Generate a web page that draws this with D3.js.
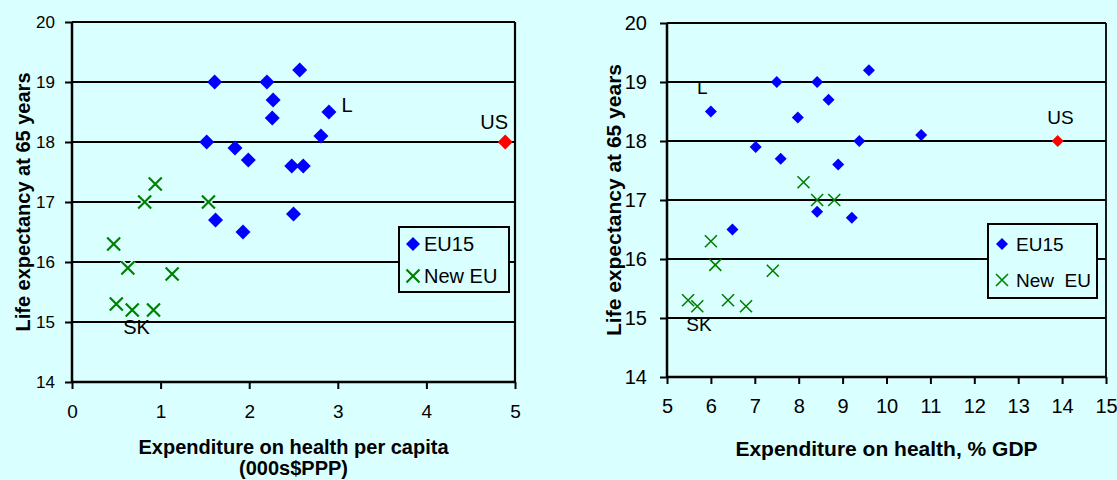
<!DOCTYPE html>
<html>
<head>
<meta charset="utf-8">
<script src="https://cdn.jsdelivr.net/npm/d3@7/dist/d3.min.js"></script>
<style>
  html, body { margin: 0; padding: 0; background: #d9ffff; }
  svg { display: block; font-family: Arial, "Liberation Sans", sans-serif; }
</style>
</head>
<body>
<svg id="chart" width="1117" height="480"></svg>
<script>
// ---- Data ----
const yTicks = [14, 15, 16, 17, 18, 19, 20];
const leftXTicks = [0, 1, 2, 3, 4, 5];
const rightXTicks = [5, 6, 7, 8, 9, 10, 11, 12, 13, 14, 15];

// Left: expenditure per capita (000s $PPP)
const leftEU15X = [1.61, 2.20, 2.27, 2.26, 1.52, 1.84, 1.99, 2.48, 2.57, 2.90, 2.81, 2.61, 1.62, 1.93, 2.50];
const leftEU15Y = [19.0, 19.0, 18.7, 18.4, 18.0, 17.9, 17.7, 17.6, 19.2, 18.5, 18.1, 17.6, 16.7, 16.5, 16.8];
const leftNewX = [0.94, 0.82, 1.54, 0.47, 0.63, 1.13, 0.50, 0.68, 0.92];
const leftNewY = [17.3, 17.0, 17.0, 16.3, 15.9, 15.8, 15.3, 15.2, 15.2];
const leftUS = [4.89, 18.0];

// Right: expenditure % GDP
const rightEU15X = [7.50, 8.42, 9.60, 8.68, 6.00, 7.98, 9.38, 7.02, 7.59, 8.90, 10.79, 8.42, 9.21, 6.49];
const rightEU15Y = [19.0, 19.0, 19.2, 18.7, 18.5, 18.4, 18.0, 17.9, 17.7, 17.6, 18.1, 16.8, 16.7, 16.5];
const rightNewX = [8.11, 8.42, 8.81, 6.00, 6.10, 7.41, 5.48, 5.69, 6.39, 6.80];
const rightNewY = [17.3, 17.0, 17.0, 16.3, 15.9, 15.8, 15.3, 15.2, 15.3, 15.2];
const rightUS = [13.9, 18.0];

const seriesNames = ["EU15", "New EU"];
const yTitle = "Life expectancy at 65 years";

const BG = "#d9ffff";
const svg = d3.select("#chart");
svg.append("rect").attr("width", 1117).attr("height", 480).attr("fill", BG);

function diamond(g, cx, cy, r, fill) {
  g.append("path")
    .attr("d", `M${cx},${cy - r}L${cx + r},${cy}L${cx},${cy + r}L${cx - r},${cy}Z`)
    .attr("fill", fill);
}
function cross(g, cx, cy, r, sw, halo) {
  const d = `M${cx - r},${cy - r}L${cx + r},${cy + r}M${cx - r},${cy + r}L${cx + r},${cy - r}`;
  if (halo) g.append("path").attr("d", d).attr("stroke", BG).attr("stroke-width", sw + 3).attr("fill", "none");
  g.append("path").attr("d", d).attr("stroke", "#008000").attr("stroke-width", sw).attr("fill", "none");
}

function drawChart(cfg) {
  const x = d3.scaleLinear().domain(cfg.xDomain).range(cfg.xRange);
  const y = d3.scaleLinear().domain([14, 20]).range(cfg.yRange);
  const g = svg.append("g");
  const [x0, x1] = cfg.xRange;
  const [yb, yt] = cfg.yRange;

  // gridlines
  g.selectAll(".grid").data(yTicks.filter(v => v > 14)).join("line")
    .attr("x1", x0).attr("x2", x1)
    .attr("y1", d => y(d)).attr("y2", d => y(d))
    .attr("stroke", "#000").attr("stroke-width", cfg.gridW);
  // right border
  g.append("line").attr("x1", x1).attr("x2", x1).attr("y1", yt).attr("y2", yb)
    .attr("stroke", "#000").attr("stroke-width", cfg.gridW);

  // y axis
  const ya = g.append("g").attr("transform", `translate(${x0},0)`)
    .call(d3.axisLeft(y).tickValues(yTicks).tickSize(7).tickPadding(cfg.yPad).tickFormat(d3.format("d")));
  ya.select(".domain").attr("stroke", "#000").attr("stroke-width", 2.5).attr("d", `M0,${yb}V${yt}`);
  ya.selectAll(".tick line").attr("stroke", "#000").attr("stroke-width", 2);
  ya.selectAll(".tick text").attr("font-size", cfg.yTickFs).attr("fill", "#000")
    .attr("font-family", "Arial, 'Liberation Sans', sans-serif");

  // x axis
  const xa = g.append("g").attr("transform", `translate(0,${yb})`)
    .call(d3.axisBottom(x).tickValues(cfg.xTicks).tickSize(7).tickPadding(cfg.xPad).tickFormat(d3.format("d")));
  xa.select(".domain").attr("stroke", "#000").attr("stroke-width", 2.5).attr("d", `M${x0},0H${x1}`);
  xa.selectAll(".tick line").attr("stroke", "#000").attr("stroke-width", 2);
  xa.selectAll(".tick text").attr("font-size", cfg.xTickFs).attr("fill", "#000")
    .attr("font-family", "Arial, 'Liberation Sans', sans-serif");

  // points
  const pts = g.append("g");
  cfg.newX.forEach((v, i) => cross(pts, x(v), y(cfg.newY[i]), cfg.xr, cfg.xsw, cfg.halo));
  cfg.euX.forEach((v, i) => diamond(pts, x(v), y(cfg.euY[i]), cfg.dr, "#0000ff"));
  diamond(pts, x(cfg.us[0]), y(cfg.us[1]), cfg.dr, "#ff0000");

  // point labels
  cfg.labels.forEach(l => {
    g.append("text").attr("x", x(l.px) + l.dx).attr("y", y(l.py) + l.dy)
      .attr("font-size", cfg.labFs).attr("fill", "#000").text(l.t);
  });

  // legend
  const L = cfg.legend;
  const lg = g.append("g");
  lg.append("rect").attr("x", L.x).attr("y", L.y).attr("width", L.w).attr("height", L.h)
    .attr("fill", BG).attr("stroke", "#000").attr("stroke-width", 2);
  diamond(lg, L.x + L.mx, L.y + L.r1, cfg.ldr, "#0000ff");
  lg.append("text").attr("x", L.x + L.tx).attr("y", L.y + L.r1).attr("dy", "0.35em")
    .attr("font-size", L.fs).text(seriesNames[0]);
  cross(lg, L.x + L.mx, L.y + L.r2, cfg.lxr, cfg.xsw, false);
  lg.append("text").attr("x", L.x + L.tx).attr("y", L.y + L.r2).attr("dy", "0.35em")
    .attr("font-size", L.fs).attr("xml:space", "preserve").style("white-space", "pre").text(L.name2);

  // axis titles
  g.append("text").attr("transform", `translate(${cfg.yTitleX},${(yb + yt) / 2}) rotate(-90)`)
    .attr("text-anchor", "middle").attr("font-weight", "bold").attr("font-size", cfg.titleFs).text(yTitle);
  cfg.xTitle.forEach((t, i) => {
    g.append("text").attr("x", (x0 + x1) / 2).attr("y", cfg.xTitleY + i * cfg.xTitleLH)
      .attr("text-anchor", "middle").attr("font-weight", "bold").attr("font-size", cfg.titleFs).text(t);
  });
}

drawChart({
  xDomain: [0, 5], xRange: [72, 515], yRange: [382, 22], xTicks: leftXTicks,
  gridW: 2.2, yPad: 10, xPad: 16, yTickFs: 17, xTickFs: 19,
  euX: leftEU15X, euY: leftEU15Y, newX: leftNewX, newY: leftNewY, us: leftUS,
  dr: 7.5, xr: 6.5, xsw: 2.2, halo: true, ldr: 7, lxr: 6.5, labFs: 20,
  labels: [
    { t: "L", px: 2.90, py: 18.5, dx: 12.5, dy: 0 },
    { t: "US", px: 4.89, py: 18.0, dx: -25, dy: -13 },
    { t: "SK", px: 0.68, py: 15.2, dx: -9, dy: 24 }
  ],
  legend: { x: 399, y: 227, w: 110, h: 65, mx: 14, tx: 25, r1: 17, r2: 49, fs: 20, name2: "New EU" },
  yTitleX: 30, titleFs: 20, xTitle: ["Expenditure on health per capita", "(000s$PPP)"], xTitleY: 454, xTitleLH: 21
});

drawChart({
  xDomain: [5, 15], xRange: [667, 1106], yRange: [377, 23], xTicks: rightXTicks,
  gridW: 1.8, yPad: 13, xPad: 15, yTickFs: 20, xTickFs: 20,
  euX: rightEU15X, euY: rightEU15Y, newX: rightNewX, newY: rightNewY, us: rightUS,
  dr: 6, xr: 6, xsw: 1.6, halo: false, ldr: 6, lxr: 6, labFs: 19,
  labels: [
    { t: "L", px: 6.00, py: 18.5, dx: -14, dy: -18 },
    { t: "US", px: 13.9, py: 18.0, dx: -10.5, dy: -17 },
    { t: "SK", px: 5.69, py: 15.2, dx: -11, dy: 25 }
  ],
  legend: { x: 988, y: 224, w: 109, h: 74, mx: 14, tx: 28, r1: 20, r2: 56, fs: 19, name2: "New  EU" },
  yTitleX: 621, titleFs: 21, xTitle: ["Expenditure on health, % GDP"], xTitleY: 456, xTitleLH: 22
});
</script>
</body>
</html>
